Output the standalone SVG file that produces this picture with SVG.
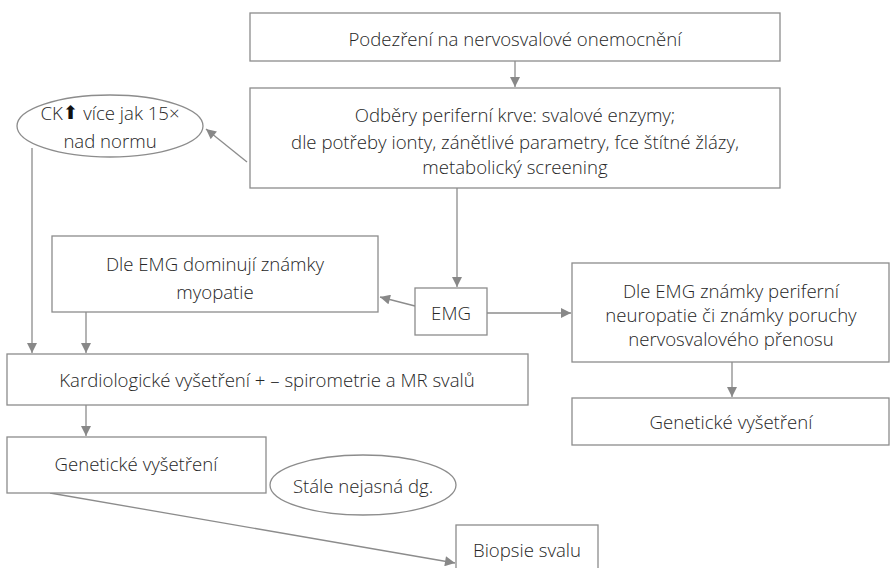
<svg xmlns="http://www.w3.org/2000/svg" width="891" height="568" viewBox="0 0 891 568">
<defs>
<marker id="ah" viewBox="0 0 10 10" refX="10" refY="5" markerWidth="11" markerHeight="10" markerUnits="userSpaceOnUse" orient="auto">
<path d="M0,0 L10,5 L0,10 z" fill="#888"/>
</marker>
</defs>
<style>
.b{fill:#fff;stroke:#8c8c8c;stroke-width:1.3}
.t{font-family:"Open Sans","Noto Sans",sans-serif;font-weight:300;font-size:18.6px;fill:#262626;text-anchor:middle;dominant-baseline:central}
.c{fill:none;stroke:#8c8c8c;stroke-width:1.3;marker-end:url(#ah)}
.a{font-family:"DejaVu Sans",sans-serif;font-weight:400;fill:#111}
</style>
<rect width="891" height="568" fill="#fff"/>
<g id="connectors">
<path class="c" d="M515,61 V87"/>
<path class="c" d="M457,188 V287"/>
<path class="c" d="M247,162 L206,129"/>
<path class="c" d="M32,148 V353"/>
<path class="c" d="M415,306 L380,297"/>
<path class="c" d="M487,313 H571"/>
<path class="c" d="M86,312 V353"/>
<path class="c" d="M732,362 V397"/>
<path class="c" d="M86,405 V436"/>
<path class="c" d="M50,493 L455,563"/>
</g>
<g id="n1"><rect class="b" x="250" y="13" width="530" height="48"/><text class="t" x="515" y="38">Podezření na nervosvalové onemocnění</text></g>
<g id="n2"><rect class="b" x="250" y="88" width="530" height="100"/>
<text class="t" x="515" y="114">Odběry periferní krve: svalové enzymy;</text>
<text class="t" x="515" y="141">dle potřeby ionty, zánětlivé parametry, fce štítné žlázy,</text>
<text class="t" x="515" y="166">metabolický screening</text></g>
<g id="ck"><ellipse class="b" cx="110" cy="126" rx="93" ry="31"/>
<text class="t" x="110" y="112">CK<tspan class="a">⬆</tspan> více jak 15×</text>
<text class="t" x="110" y="140">nad normu</text></g>
<g id="myo"><rect class="b" x="52" y="236" width="326" height="76"/>
<text class="t" x="215" y="263">Dle EMG dominují známky</text>
<text class="t" x="215" y="291">myopatie</text></g>
<g id="emg"><rect class="b" x="415" y="288" width="72" height="47"/><text class="t" x="451" y="312">EMG</text></g>
<g id="neuro"><rect class="b" x="572" y="263" width="317" height="99"/>
<text class="t" x="731" y="290">Dle EMG známky periferní</text>
<text class="t" x="731" y="314">neuropatie či známky poruchy</text>
<text class="t" x="731" y="338">nervosvalového přenosu</text></g>
<g id="gen2"><rect class="b" x="572" y="398" width="317" height="47"/><text class="t" x="731" y="421">Genetické vyšetření</text></g>
<g id="kard"><rect class="b" x="7" y="354" width="521" height="51"/><text class="t" x="267" y="379">Kardiologické vyšetření + – spirometrie a MR svalů</text></g>
<g id="gen1"><rect class="b" x="7" y="437" width="259" height="56"/><text class="t" x="136" y="463">Genetické vyšetření</text></g>
<g id="dg"><ellipse class="b" cx="363" cy="485" rx="93" ry="30"/><text class="t" x="363" y="485">Stále nejasná dg.</text></g>
<g id="bio"><rect class="b" x="456" y="525" width="142" height="50"/><text class="t" x="527" y="549">Biopsie svalu</text></g>
</svg>
